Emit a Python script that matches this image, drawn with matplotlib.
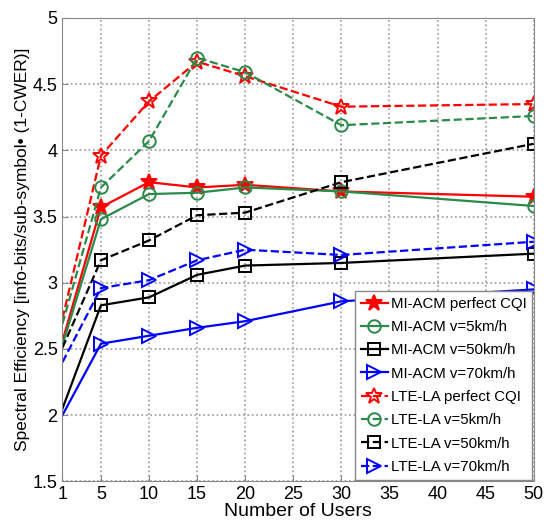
import matplotlib.pyplot as plt
from matplotlib.ticker import FuncFormatter

plt.rcParams['font.family'] = ['Liberation Sans', 'DejaVu Sans']

# Number of users
users = [1, 5, 10, 15, 20, 30, 50]

# MI-ACM (solid lines)
mi_perfect = [2.56, 3.57, 3.76, 3.72, 3.74, 3.69, 3.65]
mi_v5 = [2.53, 3.48, 3.67, 3.68, 3.72, 3.69, 3.58]
mi_v50 = [2.05, 2.83, 2.89, 3.06, 3.13, 3.15, 3.22]
mi_v70 = [2.0, 2.54, 2.60, 2.66, 2.71, 2.86, 2.95]

# LTE-LA (dashed lines)
lte_perfect = [2.73, 3.96, 4.37, 4.67, 4.56, 4.33, 4.35]
lte_v5 = [2.69, 3.72, 4.07, 4.70, 4.59, 4.19, 4.26]
lte_v50 = [2.51, 3.17, 3.32, 3.51, 3.53, 3.76, 4.05]
lte_v70 = [2.40, 2.96, 3.02, 3.17, 3.25, 3.21, 3.31]

labels = ["MI-ACM perfect CQI", "MI-ACM v=5km/h", "MI-ACM v=50km/h", "MI-ACM v=70km/h",
          "LTE-LA perfect CQI", "LTE-LA v=5km/h", "LTE-LA v=50km/h", "LTE-LA v=70km/h"]

red = '#ff0000'
green = '#2a8a4a'
black = '#000000'
blue = '#0000ff'

fig = plt.figure(figsize=(5.48, 5.29), dpi=100)
ax = fig.add_axes([0.114, 0.090, 0.860, 0.876])

# (values, color, marker, linestyle, filled, markersize)
series = [
    (mi_perfect, red, '*', '-', True, 12),
    (mi_v5, green, 'o', '-', False, 9),
    (mi_v50, black, 's', '-', False, 9),
    (mi_v70, blue, '>', '-', False, 10),
    (lte_perfect, red, '*', '--', False, 12),
    (lte_v5, green, 'o', '--', False, 9),
    (lte_v50, black, 's', '--', False, 9),
    (lte_v70, blue, '>', '--', False, 10),
]

for (vals, c, m, ls, filled, ms), lab in zip(series, labels):
    ax.plot(users, vals, color=c, linestyle=ls, linewidth=1.6,
            marker=m, markersize=ms, markevery=list(range(1, len(users))),
            markerfacecolor=c if filled else 'none', markeredgecolor=c,
            markeredgewidth=1.4, label=lab)

ax.set_xlim(1, 50)
ax.set_ylim(1.5, 5)
ax.set_xticks([1, 5, 10, 15, 20, 25, 30, 35, 40, 45, 50])
ax.set_yticks([1.5, 2, 2.5, 3, 3.5, 4, 4.5, 5])
ax.yaxis.set_major_formatter(FuncFormatter(lambda v, p: '%g' % v))
ax.tick_params(direction='in', labelsize=13, color='#888888', length=4)
ax.grid(True, linestyle=':', color='#999999', linewidth=1.2)
for sp in ax.spines.values():
    sp.set_color('#888888')

ax.set_xlabel("Number of Users", fontsize=14, labelpad=0)
ax.set_ylabel("Spectral Efficiency [info-bits/sub-symbol\u2022 (1-CWER)]", fontsize=12.5, labelpad=2)

leg = ax.legend(loc='lower right', fontsize=10.8, handlelength=1.8, handletextpad=0.2,
                labelspacing=0.62, borderaxespad=0.1, borderpad=0.4,
                fancybox=False, framealpha=1)
leg.get_frame().set_edgecolor('#888888')

fig.savefig("out.png", dpi=100)
